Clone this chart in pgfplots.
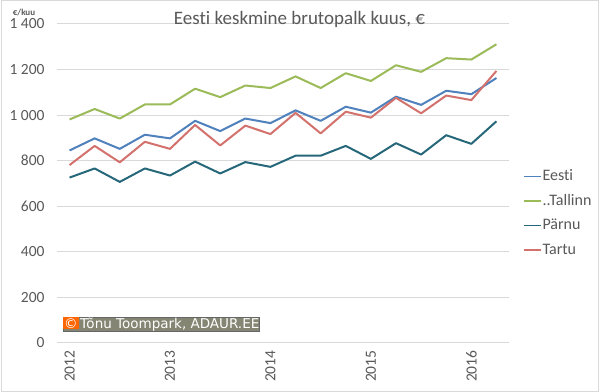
\documentclass[border=0pt]{standalone}
\usepackage{pgfplots}
\pgfplotsset{compat=1.18}
\usepackage{fontspec}
\setmainfont{Carlito}[Ligatures={NoCommon}]
\newfontfamily\wmfont{DejaVu Sans}
\definecolor{txt}{RGB}{89,89,89}
\definecolor{gridc}{RGB}{217,217,217}
\definecolor{ceesti}{RGB}{79,129,189}
\definecolor{ctallinn}{RGB}{155,187,89}
\definecolor{cparnu}{RGB}{38,104,122}
\definecolor{ctartu}{RGB}{211,113,109}
\definecolor{wmgray}{RGB}{133,133,115}
\definecolor{wmorange}{RGB}{255,102,0}
\begin{document}
\begin{tikzpicture}
\useasboundingbox (0,0) rectangle (600bp,392bp);
\fill[white] (0,0) rectangle (600bp,392bp);
\draw[gridc, line width=1bp] (1bp,1bp) rectangle (598bp,391bp);
\begin{axis}[
  at={(57bp,49bp)}, anchor=south west,
  scale only axis, width=452bp, height=319bp,
  xmin=-0.5, xmax=17.5, ymin=0, ymax=1400,
  axis line style={draw=none},
  major tick length=0pt,
  ymajorgrids, grid style={gridc, line width=1bp},
  ytick={0,200,400,600,800,1000,1200,1400},
  yticklabels={0,200,400,600,800,1 000,1 200,1 400},
  xtick={0,4,8,12,16},
  xticklabels={2012,2013,2014,2015,2016},
  yticklabel style={font=\fontsize{15.5bp}{17bp}\selectfont, text=txt, anchor=east, xshift=-9bp},
  xticklabel style={font=\fontsize{15.5bp}{17bp}\selectfont, text=txt, rotate=90, anchor=east, yshift=0bp, xshift=-4bp},
  legend style={at={(1.024,0.556)}, anchor=north west, draw=none, fill=none,
    font=\fontsize{16bp}{18bp}\selectfont, text=txt, row sep=7bp,
    nodes={inner sep=1bp, text height=12bp, text depth=3.5bp}},
  legend cell align=left,
  legend image code/.code={\draw[#1, line width=1.5bp] (0bp,0bp) -- (17bp,0bp);},
  every axis plot/.append style={line width=2bp, line join=round},
]
\addplot[ceesti, mark=none] coordinates {
(0,845) (1,898) (2,852) (3,914) (4,898) (5,975) (6,930) (7,985) (8,965)
(9,1021) (10,975) (11,1037) (12,1011) (13,1081) (14,1045) (15,1107) (16,1092) (17,1163)};
\addlegendentry{Eesti}
\addplot[ctallinn, mark=none] coordinates {
(0,981) (1,1027) (2,985) (3,1047) (4,1047) (5,1116) (6,1079) (7,1130) (8,1119)
(9,1170) (10,1119) (11,1184) (12,1150) (13,1219) (14,1190) (15,1250) (16,1244) (17,1311)};
\addlegendentry{..Tallinn}
\addplot[cparnu, mark=none] coordinates {
(0,726) (1,766) (2,707) (3,766) (4,735) (5,796) (6,744) (7,794) (8,773)
(9,822) (10,822) (11,865) (12,808) (13,877) (14,827) (15,912) (16,874) (17,973)};
\addlegendentry{Pärnu}
\addplot[ctartu, mark=none] coordinates {
(0,781) (1,865) (2,793) (3,883) (4,852) (5,957) (6,867) (7,954) (8,917)
(9,1010) (10,920) (11,1015) (12,989) (13,1076) (14,1008) (15,1086) (16,1066) (17,1194)};
\addlegendentry{Tartu}
\end{axis}
\node[anchor=base, text=txt, font=\fontsize{19bp}{22bp}\selectfont] at (299.5bp,367bp) {Eesti keskmine brutopalk kuus, €};
\node[anchor=base, text=txt, font=\fontsize{9bp}{10bp}\selectfont\bfseries] at (24bp,376bp) {€/kuu};
\node[anchor=south west, inner sep=0pt, outer sep=0pt, draw=black!60, line width=0.8bp, fill=wmgray] at (63bp,61bp)
  {\setlength{\fboxsep}{1bp}\colorbox{wmorange}{\wmfont\fontsize{13.5bp}{15bp}\selectfont\color{white}©}\hspace{1.5bp}{\wmfont\fontsize{13.5bp}{15bp}\selectfont\color{white}Tõnu Toompark, ADAUR.EE}\hspace{3bp}};
\end{tikzpicture}
\end{document}
